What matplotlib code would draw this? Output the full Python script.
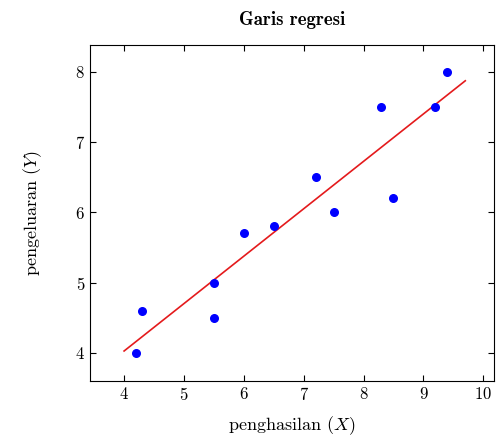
import numpy as np
import matplotlib
matplotlib.use("Agg")
import matplotlib.pyplot as plt

plt.rcParams['font.family'] = 'serif'
plt.rcParams['font.serif'] = ['cmr10']
plt.rcParams['mathtext.fontset'] = 'cm'
plt.rcParams['axes.unicode_minus'] = False
plt.rcParams['axes.formatter.use_mathtext'] = True

income = [4.2, 4.3, 5.5, 5.5, 6.0, 6.5, 7.2, 7.5, 8.3, 8.5, 9.2, 9.4]
spending = [4.0, 4.6, 5.0, 4.5, 5.7, 5.8, 6.5, 6.0, 7.5, 6.2, 7.5, 8.0]
line_range = [4.0, 9.7]

x = np.array(income)
y = np.array(spending)
slope, intercept = np.polyfit(x, y, 1)
xl = np.array(line_range)

fig = plt.figure(figsize=(4.97, 4.48), dpi=100)
ax = fig.add_axes([0.181, 0.1496, 0.813, 0.7504])
ax.plot(xl, intercept + slope * xl, color='#e41a1c', lw=1.2)
ax.scatter(x, y, color='blue', s=30, zorder=3)

ax.set_xlim(3.43, 10.18)
ax.set_ylim(3.6, 8.38)
ax.set_xticks(range(4, 11))
ax.set_yticks(range(4, 9))
ax.tick_params(direction='in', top=True, right=True, labelsize=12, length=4)
for s in ax.spines.values():
    s.set_linewidth(0.8)

ax.set_xlabel('penghasilan $(X)$', fontsize=13, labelpad=8)
ax.set_ylabel('pengeluaran $(Y)$', fontsize=13, labelpad=22)
ax.set_title('Garis regresi', fontname='cmb10', fontsize=13.5, pad=14)

fig.savefig('out.png')
